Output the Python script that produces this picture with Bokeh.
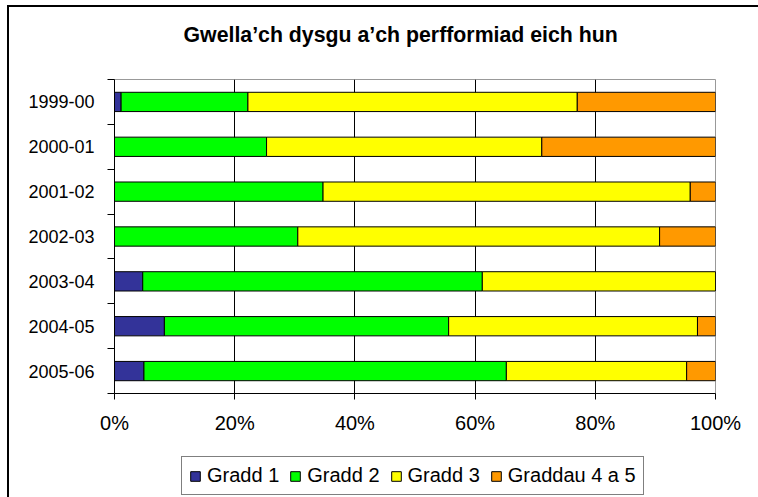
from bokeh.plotting import figure
from bokeh.layouts import column
from bokeh.models import Range1d, FixedTicker, Legend, LegendItem, ColumnDataSource
from bokeh.embed import file_html
from bokeh.resources import INLINE

categories = ["1999-00", "2000-01", "2001-02", "2002-03", "2003-04", "2004-05", "2005-06"]
gradd1 = [1.1, 0, 0, 0, 4.7, 8.3, 4.9]
gradd2 = [21.1, 25.3, 34.7, 30.5, 56.5, 47.3, 60.3]
gradd3 = [54.8, 45.8, 61.1, 60.2, 38.8, 41.4, 30.0]
gradd45 = [23.0, 28.9, 4.2, 9.3, 0, 3.0, 4.8]
series_names = ["Gradd 1", "Gradd 2", "Gradd 3", "Graddau 4 a 5"]
colors = ["#333399", "#00FF00", "#FFFF00", "#FF9900"]
x_ticks = [0, 20, 40, 60, 80, 100]
title_text = "Gwella\u2019ch dysgu a\u2019ch perfformiad eich hun"

FONT = "Liberation Sans"
W = 758
n = len(categories)
ys = list(range(n))
keys = ["g1", "g2", "g3", "g45"]
source = ColumnDataSource(dict(y=ys, g1=gradd1, g2=gradd2, g3=gradd3, g45=gradd45))


def blank(fig):
    fig.border_fill_alpha = 0
    fig.background_fill_alpha = 0
    fig.outline_line_color = None
    fig.xgrid.grid_line_color = None
    fig.ygrid.grid_line_color = None


# ---- title strip ----
tf = figure(width=W, height=70, output_backend="svg", toolbar_location=None,
            x_axis_type=None, y_axis_type=None,
            min_border_left=114, min_border_right=43, min_border_top=46, min_border_bottom=0)
blank(tf)
tf.title.text = title_text
tf.title.text_font = FONT
tf.title.text_font_size = "21.3px"
tf.title.text_font_style = "bold"
tf.title.text_color = "black"
tf.title.align = "left"
tf.title.offset = 69
tf.title.standoff = 0

# ---- main chart ----
p = figure(width=W, height=370, output_backend="svg", toolbar_location=None,
           x_range=Range1d(0, 100), y_range=Range1d(n - 0.5, -0.5),
           min_border_left=114, min_border_right=43, min_border_top=9, min_border_bottom=47)
p.border_fill_alpha = 0
p.background_fill_color = "white"
p.outline_line_color = "#999999"
p.outline_line_width = 1

renderers = p.hbar_stack(keys, y="y", height=0.43, color=colors, line_color="black",
                         line_width=1, source=source)

p.xaxis.ticker = FixedTicker(ticks=x_ticks)
p.xaxis.major_label_overrides = {t: f"{t}%" for t in x_ticks}
p.xaxis.major_label_text_font = FONT
p.xaxis.major_label_text_font_size = "20px"
p.xaxis.major_label_text_color = "black"
p.xaxis.major_tick_out = 6
p.xaxis.major_tick_in = 0
p.xaxis.minor_tick_line_color = None
p.xaxis.major_label_standoff = 12
p.xaxis.axis_line_color = "black"
p.xaxis.major_tick_line_color = "black"

p.yaxis.ticker = FixedTicker(ticks=ys, minor_ticks=[i - 0.5 for i in range(n + 1)])
p.yaxis.major_label_overrides = {i: c for i, c in zip(ys, categories)}
p.yaxis.major_label_text_font = FONT
p.yaxis.major_label_text_font_size = "18px"
p.yaxis.major_label_text_color = "black"
p.yaxis.major_tick_out = 0
p.yaxis.major_tick_in = 0
p.yaxis.minor_tick_out = 7
p.yaxis.minor_tick_in = 0
p.yaxis.minor_tick_line_color = "black"
p.yaxis.major_label_standoff = 13
p.yaxis.axis_line_color = "black"

p.xgrid.ticker = FixedTicker(ticks=[t for t in x_ticks if 0 < t < 100])
p.xgrid.grid_line_color = "black"
p.xgrid.grid_line_width = 1
p.ygrid.grid_line_color = None

# ---- legend strip ----
lf = figure(width=W, height=57, output_backend="svg", toolbar_location=None,
            x_axis_type=None, y_axis_type=None,
            x_range=Range1d(0, 100), y_range=Range1d(1000, 1001),
            min_border_left=0, min_border_right=0, min_border_top=0, min_border_bottom=0)
blank(lf)
legend_renderers = lf.hbar_stack(keys, y="y", height=0.43, color=colors, line_color="black",
                                 line_width=1, source=source)
legend = Legend(items=[LegendItem(label=nm, renderers=[r]) for nm, r in zip(series_names, legend_renderers)],
                location=(67, 2), orientation="horizontal",
                glyph_width=12, glyph_height=12, label_standoff=6, spacing=10, padding=7, margin=0,
                border_line_color="black", border_line_width=1, background_fill_color="white",
                background_fill_alpha=1,
                label_text_font=FONT, label_text_font_size="20px", label_text_color="black")
lf.add_layout(legend)

layout = column(tf, p, lf, spacing=0)
layout.styles = {"background": "linear-gradient(#000,#000) 7px 5px / 100% 2px no-repeat, "
                               "linear-gradient(#000,#000) 7px 5px / 2px 100% no-repeat, #ffffff"}

open("out.html", "w").write(file_html(layout, INLINE))
